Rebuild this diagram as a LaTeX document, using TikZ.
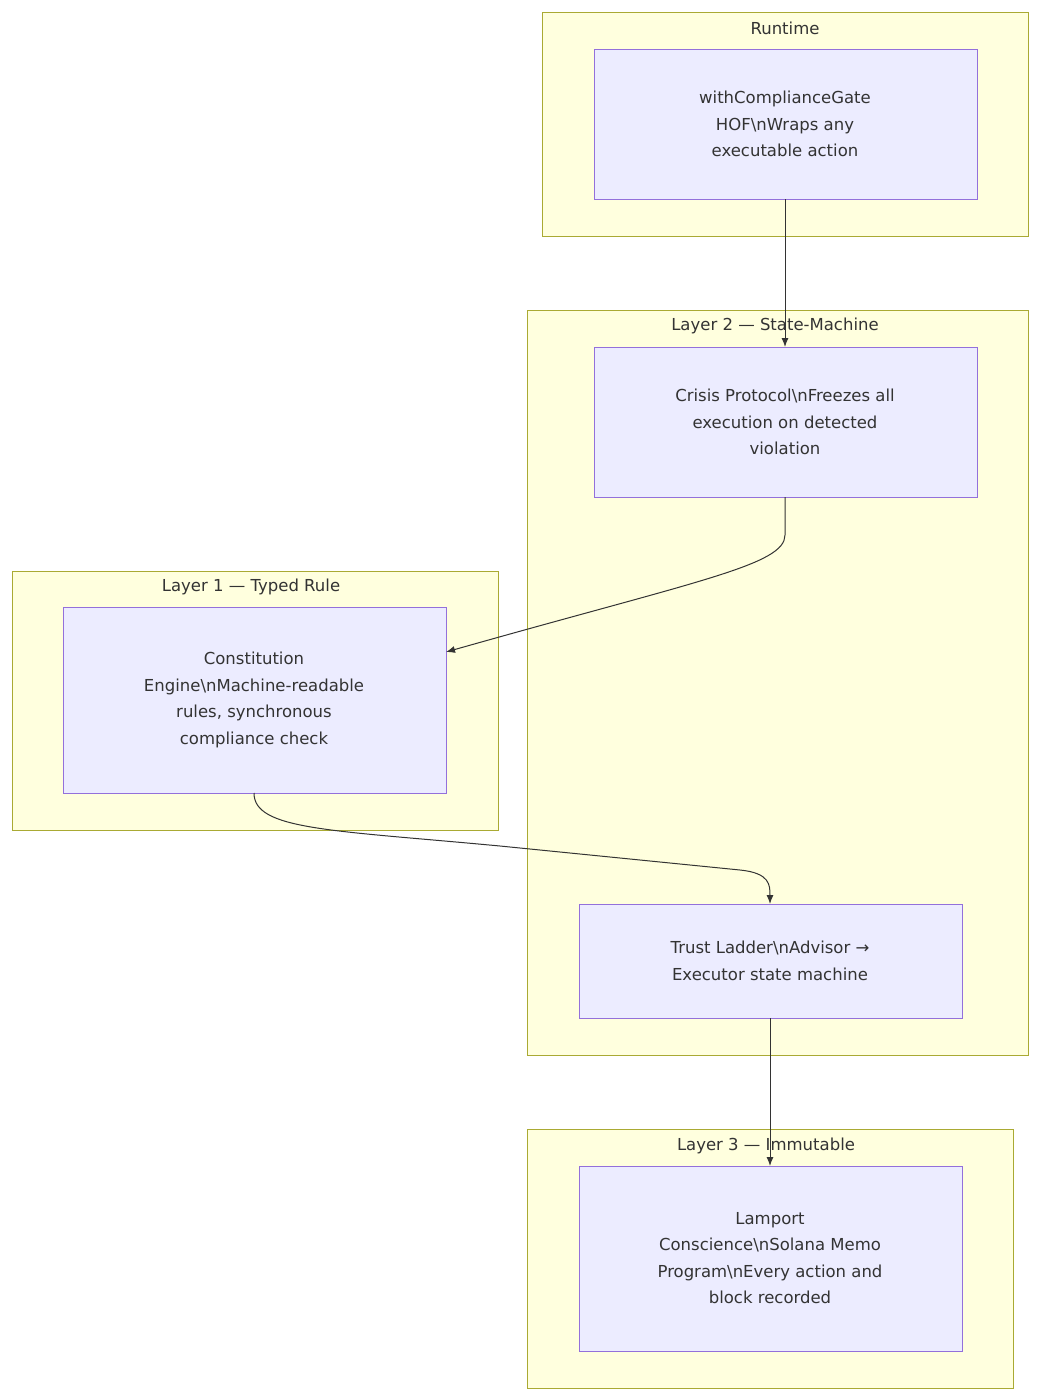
\documentclass[tikz,border=0pt]{standalone}
\usepackage{fontspec}
\setmainfont{DejaVu Sans}
\usetikzlibrary{arrows.meta}
\definecolor{cf}{HTML}{FFFFDE}\definecolor{cs}{HTML}{AAAA33}
\definecolor{nf}{HTML}{ECECFF}\definecolor{ns}{HTML}{9370DB}
\definecolor{tx}{HTML}{333333}
\begin{document}
\begin{tikzpicture}[x=1pt,y=-1pt,
 clus/.style={draw=cs,fill=cf,line width=1pt},
 ttl/.style={text=tx,font=\fontsize{16.5}{20}\selectfont,anchor=center},
 box/.style={draw=ns,fill=nf,line width=1pt},
 lbl/.style={text=tx,font=\fontsize{16.5}{26.5}\selectfont,align=center,anchor=center},
 arr/.style={draw=tx,line width=1pt,-{Latex[length=9pt,width=7pt]}}]
\useasboundingbox (0,0) rectangle (1040,1400);
\draw[clus] (542,12) rectangle (1028,236);
\draw[clus] (527,310) rectangle (1028,1055);
\draw[clus] (12,571) rectangle (498,830);
\draw[clus] (527,1129) rectangle (1013,1388);
\node[ttl] (t0) at (785,28) {Runtime};
\node[ttl] (t2) at (775,326) {Layer 2 — State-Machine};
\node[ttl] (t1) at (251,587) {Layer 1 — Typed Rule};
\node[ttl] (t3) at (766,1146) {Layer 3 — Immutable};
\path[box] (594,49) rectangle (977,199); \node[lbl] (a) at (785,124) {withComplianceGate\\HOF\textbackslash nWraps any\\executable action};
\path[box] (594,347) rectangle (977,497); \node[lbl] (b) at (785,422) {Crisis Protocol\textbackslash nFreezes all\\execution on detected\\violation};
\path[box] (63,607) rectangle (446,793); \node[lbl] (c) at (254,700) {Constitution\\Engine\textbackslash nMachine-readable\\rules, synchronous\\compliance check};
\path[box] (579,904) rectangle (962,1018); \node[lbl] (d) at (770,961) {Trust Ladder\textbackslash nAdvisor →\\Executor state machine};
\path[box] (579,1166) rectangle (962,1351); \node[lbl] (e) at (770,1258) {Lamport\\Conscience\textbackslash nSolana Memo\\Program\textbackslash nEvery action and\\block recorded};
\coordinate (a1) at (785,199); \coordinate (b0) at (785,347);
\coordinate (b1) at (785,497); \coordinate (c0) at (446,652);
\coordinate (c1) at (254,793); \coordinate (d0) at (770,904);
\coordinate (d1) at (770,1018); \coordinate (e0) at (770,1166);
\draw[arr] (a1) -- (b0);
\draw[arr] (b1) -- (785,535) .. controls (785,565) and (700,580) .. (c0);
\draw[arr] (c1) .. controls (254,830) and (330,830) .. (500,846) -- (740,870) .. controls (770,873) and (770,885) .. (d0);
\draw[arr] (d1) -- (e0);
\end{tikzpicture}
\end{document}
